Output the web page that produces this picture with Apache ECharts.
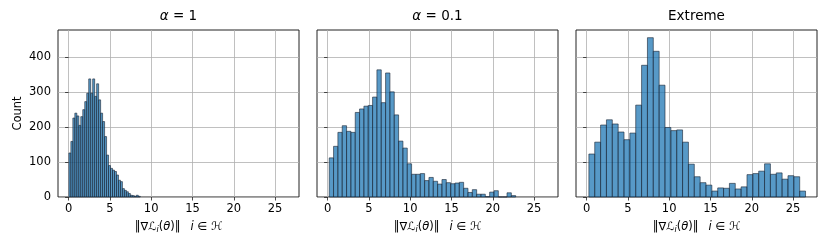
<!DOCTYPE html>
<html>
<head>
<meta charset="utf-8">
<script src="https://cdn.jsdelivr.net/npm/echarts@6/dist/echarts.min.js"></script>
<style>
  html, body { margin: 0; padding: 0; background: #fff; }
  #main { width: 830px; height: 249px; }
</style>
</head>
<body>
<div id="main"></div>
<script>
// histogram counts, one list per panel
const alpha1Counts = [126, 159, 226, 240, 232, 205, 230, 250, 273, 297, 338, 297, 338, 288, 324, 278,
  240, 216, 173, 120, 90, 82, 77, 73, 63, 48, 44, 24, 19, 15, 10, 5, 4, 2, 5, 2]
const alpha1Start = 0.04
const alpha1Width = 0.24

const alpha01Counts = [112, 145, 185, 204, 188, 185, 242, 252, 260, 262, 286, 364, 270, 355, 301, 235,
  160, 140, 95, 65, 65, 67, 47, 56, 45, 37, 50, 41, 38, 40, 42, 25, 13, 21, 8, 8, 1, 14, 18, 0, 0, 12, 4]
const alpha01Start = 0.2
const alpha01Width = 0.525

const extremeCounts = [123, 157, 206, 221, 209, 186, 164, 183, 263, 377, 456, 417, 320, 199, 190, 192,
  157, 94, 58, 41, 34, 17, 26, 25, 39, 23, 29, 64, 67, 74, 95, 65, 69, 51, 61, 58, 17]
const extremeStart = 0.28
const extremeWidth = 0.709

const panelTitles = ['{a|α} = 1', '{a|α} = 0.1', 'Extreme']
const xTicks = [0, 5, 10, 15, 20, 25]
const yTicks = [0, 100, 200, 300, 400]

// bins -> [left edge, right edge, count]
function toBins(counts, start, width) {
  return counts.map((c, i) => [start + i * width, start + (i + 1) * width, c])
}

const panels = [
  toBins(alpha1Counts, alpha1Start, alpha1Width),
  toBins(alpha01Counts, alpha01Start, alpha01Width),
  toBins(extremeCounts, extremeStart, extremeWidth)
]

const FONT = 'DejaVu Sans'
const lefts = [58, 317, 576]
const W = 241, H = 167, TOP = 30

function histBar(params, api) {
  const lo = api.coord([api.value(0), api.value(2)])
  const hi = api.coord([api.value(1), 0])
  return {
    type: 'rect',
    shape: { x: lo[0], y: lo[1], width: hi[0] - lo[0], height: hi[1] - lo[1] },
    style: { fill: 'rgba(31,119,180,0.75)', stroke: 'rgba(25,35,50,0.8)', lineWidth: 0.75 }
  }
}

const xName = '{n|‖∇ℒ}{s|i}{n|(}{it|θ}{n|)‖}   {it|i}{n| ∈ ℋ}'

const chart = echarts.init(document.getElementById('main'))
chart.setOption({
  animation: false,
  title: panelTitles.map((t, i) => ({
    text: t,
    left: lefts[i] + W / 2,
    textAlign: 'center',
    top: 9,
    padding: 0,
    textStyle: {
      fontFamily: FONT, fontSize: 13.5, fontWeight: 'normal', color: '#000',
      rich: { a: { fontFamily: FONT, fontSize: 13.5, fontStyle: 'italic', color: '#000' } }
    }
  })),
  grid: lefts.map(l => ({
    left: l, top: TOP, width: W, height: H,
    show: true, borderColor: '#222', borderWidth: 1, backgroundColor: 'transparent'
  })),
  xAxis: lefts.map((l, i) => ({
    gridIndex: i,
    type: 'value',
    min: -1.28,
    max: 27.9,
    axisLine: { show: false },
    axisTick: { show: true, length: 3.5, customValues: xTicks, lineStyle: { color: '#222', width: 0.8 } },
    axisLabel: { customValues: xTicks, fontFamily: FONT, fontSize: 11.5, color: '#000', margin: 6 },
    splitLine: { show: true, lineStyle: { color: '#b0b0b0', width: 0.8 } },
    name: xName,
    nameLocation: 'middle',
    nameGap: 23,
    nameTextStyle: {
      rich: {
        n: { fontFamily: FONT, fontSize: 11.5, color: '#000' },
        it: { fontFamily: FONT, fontSize: 11.5, fontStyle: 'italic', color: '#000' },
        s: { fontFamily: FONT, fontSize: 8, fontStyle: 'italic', color: '#000', padding: [6, 0, 0, 0] }
      }
    }
  })),
  yAxis: lefts.map((l, i) => ({
    gridIndex: i,
    type: 'value',
    min: 0,
    max: 478,
    axisLine: { show: false },
    axisTick: { show: true, length: 3.5, customValues: yTicks, lineStyle: { color: '#222', width: 0.8 } },
    axisLabel: { show: i === 0, customValues: yTicks, fontFamily: FONT, fontSize: 11.5, color: '#000', margin: 7 },
    splitLine: { show: true, lineStyle: { color: '#b0b0b0', width: 0.8 } },
    name: i === 0 ? 'Count' : '',
    nameLocation: 'middle',
    nameRotate: 90,
    nameGap: 34,
    nameTextStyle: { fontFamily: FONT, fontSize: 11.5, color: '#000' }
  })),
  series: panels.map((bins, i) => ({
    type: 'custom',
    xAxisIndex: i,
    yAxisIndex: i,
    renderItem: histBar,
    encode: { x: [0, 1], y: 2 },
    data: bins
  }))
})
</script>
</body>
</html>
